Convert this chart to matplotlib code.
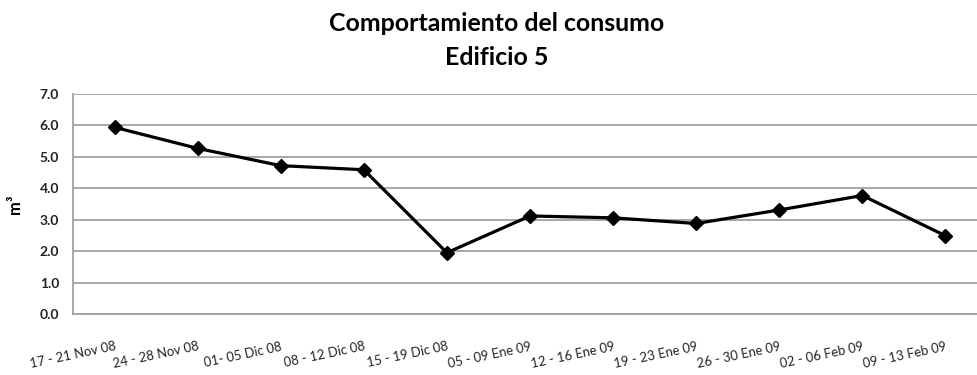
import matplotlib.pyplot as plt

semanas = ['17 - 21 Nov 08', '24 - 28 Nov 08', '01- 05 Dic 08', '08 - 12 Dic 08',
           '15 - 19 Dic 08', '05 - 09 Ene 09', '12 - 16 Ene 09', '19 - 23 Ene 09',
           '26 - 30 Ene 09', '02 - 06 Feb 09', '09 - 13 Feb 09']
consumo = [5.94, 5.27, 4.72, 4.59, 1.95, 3.12, 3.06, 2.88, 3.31, 3.77, 2.49]
yticks = [0, 1, 2, 3, 4, 5, 6, 7]

plt.rcParams['font.family'] = ['Lato', 'DejaVu Sans']

fig = plt.figure(figsize=(9.77, 3.75), dpi=100)
ax = fig.add_axes([73 / 977, 61 / 375, 914 / 977, 220 / 375])

x = list(range(len(semanas)))
ax.plot(x, consumo, color='black', lw=2.3, marker='D', ms=7, zorder=3)

ax.set_xlim(-0.5, len(semanas) - 0.5)
ax.set_ylim(0, 7)
ax.set_yticks(yticks)
ax.set_yticklabels(['%.1f' % v for v in yticks], fontsize=10, fontweight='bold', color='#222222')
ax.set_xticks(x)
ax.set_xticklabels(semanas, rotation=12, ha='right', rotation_mode='anchor',
                   fontsize=9.4, color='#222222')
ax.tick_params(axis='y', length=0, pad=10)
ax.tick_params(axis='x', length=0, pad=19)

ax.grid(axis='y', color='#a0a0a0', lw=1.3)
ax.set_axisbelow(True)
for s in ['top', 'right']:
    ax.spines[s].set_visible(False)
for s in ['left', 'bottom']:
    ax.spines[s].set_color('#a0a0a0')
    ax.spines[s].set_linewidth(1.3)

ax.set_ylabel('m³', fontsize=12, fontweight='bold', labelpad=12)

fig.text(0.508, 0.918, 'Comportamiento del consumo', ha='center', va='baseline',
         fontsize=17.9, fontweight='bold')
fig.text(0.508, 0.826, 'Edificio 5', ha='center', va='baseline',
         fontsize=17.9, fontweight='bold')

fig.savefig('out.png', dpi=100)
